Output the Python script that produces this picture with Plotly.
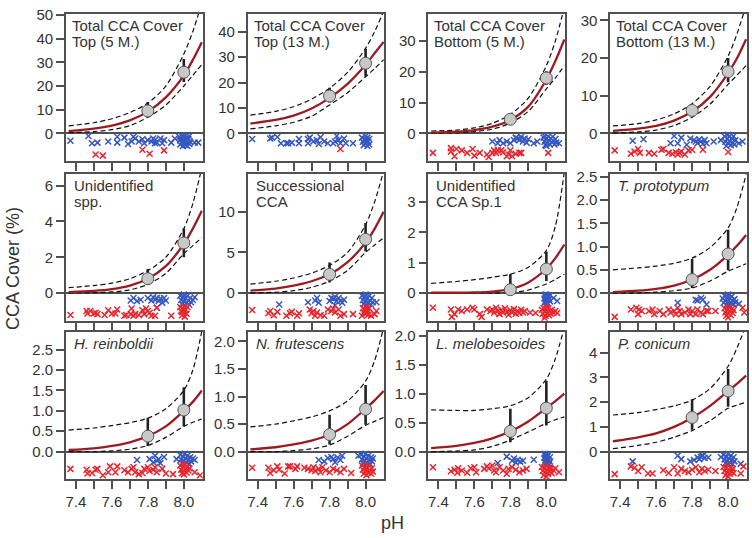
import plotly.graph_objects as go

W, H = 752, 538
FONT = "Liberation Sans, Arial, Helvetica, sans-serif"

# ---------------- data ----------------
PH_GRID = [7.36, 7.5, 7.6, 7.7, 7.8, 7.9, 8.0, 8.05, 8.1]
MEAN_PH = [7.8, 8.0]

TITLES = [
    ("Total CCA Cover", "Top (5 M.)"),
    ("Total CCA Cover", "Top (13 M.)"),
    ("Total CCA Cover", "Bottom (5 M.)"),
    ("Total CCA Cover", "Bottom (13 M.)"),
    ("Unidentified", "spp."),
    ("Successional", "CCA"),
    ("Unidentified", "CCA Sp.1"),
    ("<i>T. prototypum</i>", ""),
    ("<i>H. reinboldii</i>", ""),
    ("<i>N. frutescens</i>", ""),
    ("<i>L. melobesoides</i>", ""),
    ("<i>P. conicum</i>", ""),
]

YTICKS = [
    [0, 10, 20, 30, 40, 50],
    [0, 10, 20, 30, 40],
    [0, 10, 20, 30],
    [0, 10, 20, 30],
    [0, 2, 4, 6],
    [0, 5, 10],
    [0, 1, 2, 3],
    [0.0, 0.5, 1.0, 1.5, 2.0, 2.5],
    [0.0, 0.5, 1.0, 1.5, 2.0, 2.5],
    [0.0, 0.5, 1.0, 1.5, 2.0],
    [0.0, 0.5, 1.0, 1.5, 2.0],
    [0, 1, 2, 3, 4],
]
YTOP = [50.4, 47.0, 38.8, 31.7, 6.68, 14.7, 3.94, 2.57, 2.93, 2.17, 2.06, 4.83]

# fitted curve / dashed bands, read at PH_GRID
CURVE_1 = [1.0, 2.0, 3.3, 5.5, 9.2, 15.2, 24.5, 31.0, 38.5]
UPPER_1 = [3.2, 4.5, 6.2, 8.8, 12.8, 20.0, 33.5, 43.0, 55.0]
LOWER_1 = [0.3, 0.8, 1.6, 3.3, 6.8, 12.0, 20.0, 24.5, 29.0]
CURVE_2 = [3.9, 5.3, 7.0, 9.8, 14.0, 19.5, 27.0, 31.5, 36.0]
UPPER_2 = [7.2, 8.7, 10.5, 13.5, 17.8, 24.0, 33.5, 40.0, 48.0]
LOWER_2 = [1.8, 3.0, 4.4, 6.8, 11.2, 16.0, 22.3, 25.5, 29.0]
CURVE_3 = [0.3, 0.6, 1.1, 2.2, 4.4, 8.7, 17.5, 23.5, 30.5]
UPPER_3 = [0.8, 1.1, 1.8, 3.3, 6.2, 11.5, 22.0, 30.0, 41.0]
LOWER_3 = [0.0, 0.2, 0.6, 1.4, 3.4, 7.2, 14.5, 18.0, 22.0]
CURVE_4 = [0.7, 1.3, 2.0, 3.4, 5.8, 9.7, 16.0, 20.0, 25.0]
UPPER_4 = [2.0, 2.6, 3.6, 5.2, 7.9, 12.5, 20.5, 26.5, 34.0]
LOWER_4 = [0.1, 0.4, 0.9, 2.1, 4.3, 7.8, 13.0, 15.5, 18.0]
CURVE_5 = [0.05, 0.12, 0.22, 0.42, 0.8, 1.5, 2.75, 3.6, 4.6]
UPPER_5 = [0.3, 0.42, 0.55, 0.8, 1.25, 2.0, 3.6, 5.0, 7.0]
LOWER_5 = [0.0, 0.02, 0.06, 0.18, 0.48, 1.1, 2.2, 2.65, 3.1]
CURVE_6 = [0.3, 0.55, 0.9, 1.45, 2.3, 3.8, 6.2, 7.9, 10.0]
UPPER_6 = [1.1, 1.45, 1.85, 2.45, 3.4, 5.0, 8.4, 11.2, 15.0]
LOWER_6 = [0.0, 0.1, 0.3, 0.7, 1.45, 2.8, 5.0, 5.9, 6.8]
CURVE_7 = [0.01, 0.01, 0.02, 0.05, 0.13, 0.35, 0.8, 1.15, 1.6]
UPPER_7 = [0.32, 0.38, 0.44, 0.52, 0.62, 0.85, 1.4, 2.2, 4.0]
LOWER_7 = [0.0, 0.0, 0.0, 0.0, 0.01, 0.1, 0.3, 0.45, 0.62]
CURVE_8 = [0.02, 0.05, 0.09, 0.16, 0.29, 0.5, 0.82, 1.02, 1.25]
UPPER_8 = [0.5, 0.54, 0.58, 0.64, 0.75, 0.98, 1.4, 1.85, 2.55]
LOWER_8 = [0.0, 0.0, 0.02, 0.05, 0.11, 0.26, 0.47, 0.55, 0.63]
CURVE_9 = [0.04, 0.08, 0.14, 0.23, 0.38, 0.62, 1.0, 1.22, 1.5]
UPPER_9 = [0.53, 0.58, 0.64, 0.71, 0.82, 1.05, 1.5, 2.0, 2.95]
LOWER_9 = [0.0, 0.0, 0.02, 0.06, 0.15, 0.35, 0.62, 0.72, 0.8]
CURVE_10 = [0.04, 0.08, 0.13, 0.2, 0.31, 0.5, 0.78, 0.93, 1.1]
UPPER_10 = [0.45, 0.5, 0.56, 0.63, 0.74, 0.92, 1.28, 1.65, 2.25]
LOWER_10 = [0.0, 0.0, 0.02, 0.05, 0.12, 0.28, 0.48, 0.55, 0.62]
CURVE_11 = [0.06, 0.1, 0.15, 0.23, 0.35, 0.52, 0.75, 0.87, 1.0]
UPPER_11 = [0.72, 0.71, 0.71, 0.74, 0.79, 0.93, 1.25, 1.6, 2.15]
LOWER_11 = [0.0, 0.01, 0.03, 0.09, 0.2, 0.34, 0.49, 0.55, 0.6]
CURVE_12 = [0.42, 0.58, 0.74, 1.0, 1.37, 1.85, 2.45, 2.75, 3.07]
UPPER_12 = [1.48, 1.58, 1.7, 1.85, 2.08, 2.55, 3.45, 4.2, 5.1]
LOWER_12 = [0.12, 0.25, 0.38, 0.58, 0.85, 1.25, 1.75, 1.88, 2.0]

# means at pH 7.8 / 8.0 and interval ends
MEAN = [[9.5, 25.8], [14.7, 27.6], [4.6, 18.0], [6.1, 16.4], [0.8, 2.8], [2.3, 6.6],
        [0.11, 0.79], [0.29, 0.84], [0.38, 1.02], [0.31, 0.77], [0.35, 0.75], [1.38, 2.45]]
MEAN_LO = [[7.9, 21.7], [12.2, 22.4], [3.8, 15.8], [4.8, 13.6], [0.46, 2.0], [1.3, 5.1],
           [0.0, 0.4], [0.11, 0.49], [0.14, 0.62], [0.13, 0.49], [0.16, 0.45], [0.89, 1.81]]
MEAN_HI = [[13.3, 31.4], [18.0, 33.3], [5.6, 20.2], [7.4, 20.0], [1.34, 3.6], [3.75, 8.6],
           [0.63, 1.36], [0.73, 1.36], [0.83, 1.58], [0.67, 1.21], [0.74, 1.22], [2.12, 3.34]]

# individual observations below the zero line: (pH, jitter depth 0..1)
BLUE_1 = [(7.37,.26),(7.47,.09),(7.49,.35),(7.52,.33),(7.58,.29),(7.63,.12),(7.63,.33),(7.67,.15),(7.69,.38),
          (7.71,.29),(7.72,.12),(7.73,.18),(7.75,.29),(7.77,.21),(7.78,.35),(7.80,.24),(7.82,.29),(7.83,.18),
          (7.84,.35),(7.84,.24),(7.85,.33),(7.87,.18),(7.88,.35),(7.89,.24),(7.93,.33),(7.95,.18),
          (7.975,.12),(7.98,.25),(7.98,.4),(7.99,.1),(7.99,.3),(7.995,.45),(8.0,.18),(8.0,.35),(8.005,.08),
          (8.01,.25),(8.01,.42),(8.015,.15),(8.02,.32),(8.02,.45),(8.025,.2),(8.03,.1),(8.03,.38),(7.985,.18),
          (8.005,.28),(8.035,.3),(8.06,.33),(8.08,.33)]
RED_1 = [(7.51,.76),(7.55,.80),(7.77,.59),(7.81,.73),(7.89,.61)]
BLUE_2 = [(7.37,.2),(7.47,.18),(7.48,.15),(7.51,.13),(7.53,.35),(7.56,.35),(7.57,.35),(7.59,.33),(7.63,.2),
          (7.63,.35),(7.68,.2),(7.68,.35),(7.69,.15),(7.71,.29),(7.73,.24),(7.74,.38),(7.75,.14),(7.77,.29),
          (7.79,.35),(7.82,.35),(7.83,.29),(7.84,.09),(7.85,.24),(7.86,.35),(7.88,.18),(7.89,.35),(7.93,.35),
          (7.98,.15),(7.985,.3),(7.99,.42),(7.995,.2),(8.0,.1),(8.0,.35),(8.005,.25),(8.01,.45),(8.01,.15),
          (8.015,.3),(8.02,.2),(8.02,.4)]
RED_2 = [(7.86,.56)]
BLUE_3 = [(7.70,.29),(7.73,.35),(7.74,.24),(7.76,.35),(7.78,.29),(7.80,.35),(7.82,.24),(7.83,.15),(7.84,.18),
          (7.85,.24),(7.86,.12),(7.87,.29),(7.88,.18),(7.89,.33),(7.90,.21),(7.93,.35),(7.95,.29),
          (7.985,.15),(7.99,.3),(7.995,.42),(8.0,.2),(8.005,.35),(8.01,.1),(8.015,.25),(8.02,.4),(8.025,.18),
          (8.03,.32),(8.035,.12),(8.04,.28),(8.045,.4),(8.05,.2),(8.055,.33),(8.0,.45),(7.99,.08),(8.07,.35)]
RED_3 = [(7.37,.7),(7.47,.53),(7.47,.65),(7.49,.82),(7.5,.56),(7.53,.61),(7.56,.7),(7.59,.56),(7.6,.8),
         (7.63,.7),(7.67,.76),(7.68,.85),(7.70,.7),(7.71,.61),(7.72,.7),(7.73,.61),(7.75,.61),(7.76,.68),
         (7.78,.82),(7.79,.76),(7.80,.61),(7.81,.82),(7.83,.73),(7.85,.7),(7.86,.7),(8.01,.7)]
BLUE_4 = [(7.47,.26),(7.53,.21),(7.68,.35),(7.70,.09),(7.72,.35),(7.74,.15),(7.77,.41),(7.79,.18),(7.81,.24),
          (7.82,.29),(7.83,.35),(7.84,.21),(7.85,.29),(7.86,.38),(7.87,.24),(7.88,.35),(7.92,.29),(7.96,.24),
          (7.98,.1),(7.985,.3),(7.99,.45),(7.995,.2),(8.0,.35),(8.005,.12),(8.01,.28),(8.015,.42),(8.02,.18),
          (8.025,.33),(8.03,.1),(8.035,.4),(8.04,.25),(8.0,.05),(8.06,.35),(8.08,.29)]
RED_4 = [(7.37,.61),(7.46,.73),(7.48,.65),(7.50,.56),(7.51,.7),(7.56,.7),(7.59,.73),(7.63,.59),(7.64,.56),
         (7.67,.7),(7.69,.73),(7.71,.68),(7.72,.76),(7.73,.7),(7.74,.65),(7.76,.76),(7.78,.61),(7.80,.59),
         (7.86,.59),(8.0,.67)]
BLUE_5 = [(7.705,.27),(7.72,.18),(7.74,.29),(7.76,.24),(7.80,.18),(7.82,.27),(7.83,.15),(7.84,.24),(7.85,.18),
          (7.85,.53),(7.86,.29),(7.87,.2),(7.88,.35),(7.89,.18),(7.90,.27),
          (7.98,.1),(7.985,.25),(7.99,.4),(7.995,.15),(8.0,.3),(8.005,.45),(8.01,.2),(8.015,.35),(8.02,.1),
          (8.025,.28),(8.03,.42),(8.035,.18),(8.04,.33),(8.05,.25),(8.06,.15),(8.0,.05)]
RED_5 = [(7.37,.79),(7.46,.65),(7.465,.74),(7.48,.65),(7.50,.74),(7.51,.71),(7.52,.76),(7.56,.79),(7.58,.62),
         (7.6,.74),(7.62,.74),(7.63,.59),(7.67,.82),(7.68,.79),(7.705,.76),(7.71,.56),(7.72,.82),(7.73,.76),
         (7.75,.79),(7.77,.62),(7.78,.76),(7.79,.56),(7.80,.65),(7.81,.71),(7.82,.82),(7.84,.82),(7.85,.53),
         (7.93,.82),(7.98,.5),(7.985,.65),(7.99,.8),(7.995,.55),(8.0,.7),(8.005,.85),(8.01,.6),(8.015,.75),
         (8.02,.5),(8.0,.6),(7.99,.68)]
BLUE_6 = [(7.52,.41),(7.68,.33),(7.72,.27),(7.73,.18),(7.74,.35),(7.80,.29),(7.81,.18),(7.82,.21),(7.83,.14),
          (7.83,.44),(7.84,.29),(7.85,.18),(7.86,.29),(7.87,.35),(7.88,.24),
          (7.98,.1),(7.985,.25),(7.99,.4),(7.995,.15),(8.0,.3),(8.005,.45),(8.01,.2),(8.015,.35),(8.02,.1),
          (8.025,.28),(8.03,.42),(8.035,.18),(8.04,.33),(8.0,.05),(8.06,.33)]
RED_6 = [(7.37,.61),(7.46,.73),(7.47,.65),(7.49,.8),(7.51,.68),(7.56,.82),(7.58,.73),(7.59,.68),(7.62,.82),
         (7.63,.73),(7.69,.59),(7.70,.73),(7.71,.65),(7.72,.82),(7.73,.7),(7.75,.8),(7.77,.82),(7.79,.59),
         (7.81,.65),(7.82,.56),(7.83,.7),(7.85,.59),(7.86,.82),(7.88,.76),(7.93,.76),(7.98,.82),(8.01,.7),
         (8.03,.82),(8.05,.76),(8.06,.65),(7.985,.55),(7.99,.7),(7.995,.6),(8.0,.75),(8.005,.5),(8.01,.62),
         (8.015,.78),(8.02,.55),(8.0,.65)]
BLUE_7 = [(7.99,.06),(7.99,.2),(7.99,.35),(7.995,.12),(7.995,.28),(8.0,.05),(8.0,.18),(8.0,.32),(8.0,.41),
          (8.005,.1),(8.005,.25),(8.01,.15),(8.01,.38),(8.015,.22),(8.02,.3),(8.02,.08),(8.04,.18),(8.06,.29)]
RED_7 = [(7.37,.53),(7.47,.59),(7.475,.86),(7.49,.76),(7.51,.59),(7.53,.65),(7.56,.59),(7.59,.53),(7.6,.59),
         (7.63,.76),(7.64,.86),(7.67,.59),(7.69,.65),(7.70,.59),(7.71,.71),(7.72,.53),(7.73,.65),(7.74,.76),
         (7.75,.6),(7.76,.7),(7.77,.55),(7.78,.68),(7.79,.78),(7.80,.62),(7.81,.7),(7.82,.58),(7.83,.75),
         (7.84,.65),(7.85,.72),(7.86,.6),(7.87,.7),(7.88,.65),(7.91,.7),(7.94,.72),
         (7.975,.6),(7.98,.75),(7.985,.55),(7.99,.68),(7.995,.82),(8.0,.6),(8.005,.72),(8.01,.55),(8.015,.8),
         (8.02,.65),(8.025,.75),(8.03,.6),(8.04,.7),(8.05,.65),(8.06,.72),(8.0,.5),(7.99,.9)]
BLUE_8 = [(7.72,.35),(7.82,.24),(7.83,.27),(7.85,.18),(7.86,.24),(7.88,.41),
          (7.97,.2),(7.975,.35),(7.98,.1),(7.985,.28),(7.99,.42),(7.995,.15),(8.0,.3),(8.005,.45),(8.01,.2),
          (8.015,.35),(8.02,.12),(8.025,.28),(8.03,.4),(8.035,.22),(8.04,.33),(8.0,.05),(8.06,.39)]
RED_8 = [(7.37,.86),(7.46,.59),(7.49,.53),(7.50,.76),(7.505,.59),(7.52,.65),(7.56,.65),(7.58,.59),(7.59,.76),
         (7.62,.65),(7.64,.76),(7.67,.59),(7.68,.7),(7.70,.65),(7.71,.76),(7.72,.53),(7.73,.65),(7.74,.76),
         (7.76,.7),(7.78,.59),(7.79,.76),(7.80,.65),(7.82,.76),(7.83,.59),(7.85,.7),(7.86,.76),(7.88,.65),
         (7.89,.65),(7.93,.65),(7.98,.55),(7.985,.7),(7.99,.82),(7.995,.6),(8.0,.75),(8.005,.5),(8.01,.65),
         (8.015,.8),(8.02,.58),(8.025,.72),(8.03,.62),(8.0,.88),(8.08,.53),(8.09,.7)]
BLUE_9 = [(7.74,.3),(7.81,.27),(7.83,.38),(7.84,.15),(7.85,.33),(7.86,.27),(7.87,.42),(7.89,.19),(7.96,.27),
          (7.98,.12),(7.985,.28),(7.99,.42),(7.995,.18),(8.0,.33),(8.005,.08),(8.01,.25),(8.015,.4),(8.02,.15),
          (8.025,.3),(8.03,.45),(8.035,.2),(8.04,.35),(8.05,.25),(8.06,.3),(8.0,.45)]
RED_9 = [(7.37,.62),(7.46,.65),(7.465,.79),(7.49,.77),(7.51,.65),(7.52,.62),(7.55,.85),(7.58,.74),(7.59,.53),
         (7.62,.74),(7.63,.53),(7.67,.67),(7.69,.74),(7.71,.62),(7.72,.56),(7.73,.74),(7.75,.81),(7.77,.77),
         (7.78,.62),(7.80,.56),(7.81,.7),(7.83,.65),(7.84,.56),(7.85,.74),(7.88,.62),(7.90,.79),(7.94,.81),
         (7.98,.5),(7.985,.65),(7.99,.78),(7.995,.55),(8.0,.7),(8.005,.45),(8.01,.62),(8.015,.75),(8.02,.55),
         (8.025,.68),(8.03,.6),(8.0,.82),(8.06,.74),(8.09,.85)]
BLUE_10 = [(7.74,.3),(7.77,.35),(7.79,.23),(7.81,.19),(7.82,.27),(7.83,.38),(7.845,.21),(7.86,.3),(7.87,.15),
           (7.96,.15),(7.975,.12),(7.98,.28),(7.985,.42),(7.99,.18),(7.995,.33),(8.0,.08),(8.005,.25),(8.01,.4),
           (8.015,.15),(8.02,.3),(8.025,.45),(8.03,.2),(8.035,.35),(8.04,.25),(8.0,.45)]
RED_10 = [(7.37,.58),(7.46,.58),(7.47,.77),(7.49,.67),(7.51,.53),(7.52,.65),(7.55,.79),(7.57,.53),(7.58,.53),
          (7.61,.62),(7.62,.53),(7.66,.58),(7.68,.62),(7.70,.67),(7.71,.56),(7.72,.7),(7.74,.62),(7.75,.74),
          (7.76,.56),(7.78,.67),(7.80,.74),(7.82,.62),(7.84,.67),(7.86,.74),(7.88,.62),(7.92,.77),
          (7.98,.5),(7.985,.65),(7.99,.8),(7.995,.55),(8.0,.7),(8.005,.85),(8.01,.6),(8.015,.75),(8.02,.5),
          (8.025,.68),(8.03,.8),(8.035,.6),(8.04,.72),(8.0,.6)]
BLUE_11 = [(7.73,.41),(7.78,.18),(7.81,.33),(7.82,.25),(7.83,.39),(7.84,.29),(7.855,.36),(7.87,.33),(7.93,.29),
           (7.99,.08),(7.99,.22),(7.99,.38),(7.995,.15),(7.995,.3),(8.0,.1),(8.0,.25),(8.0,.42),(8.005,.18),
           (8.005,.35),(8.01,.12),(8.01,.28),(8.015,.45),(8.02,.2),(8.02,.36)]
RED_11 = [(7.37,.56),(7.47,.71),(7.49,.65),(7.505,.76),(7.51,.6),(7.53,.68),(7.56,.76),(7.58,.6),(7.60,.56),
          (7.61,.74),(7.655,.62),(7.67,.53),(7.68,.6),(7.70,.5),(7.71,.68),(7.72,.74),(7.74,.56),(7.76,.68),
          (7.78,.8),(7.79,.62),(7.81,.56),(7.83,.65),(7.85,.74),(7.87,.68),(7.89,.62),
          (7.975,.55),(7.98,.7),(7.985,.85),(7.99,.6),(7.995,.75),(8.0,.5),(8.005,.65),(8.01,.8),(8.015,.58),
          (8.02,.72),(8.025,.62),(8.03,.78),(8.04,.68),(8.05,.6),(8.0,.9),(8.07,.74)]
BLUE_12 = [(7.47,.35),(7.72,.15),(7.74,.27),(7.79,.35),(7.81,.3),(7.83,.21),(7.84,.27),(7.85,.19),(7.855,.13),
           (7.86,.15),(7.87,.23),(7.89,.21),(7.96,.19),(7.975,.12),(7.98,.28),(7.985,.42),(7.99,.18),(7.995,.33),
           (8.0,.08),(8.005,.25),(8.01,.4),(8.015,.15),(8.02,.3),(8.025,.45),(8.03,.2),(8.035,.35),(8.0,.45),
           (8.07,.44)]
RED_12 = [(7.37,.81),(7.46,.53),(7.48,.58),(7.50,.7),(7.52,.56),(7.555,.79),(7.58,.79),(7.64,.67),(7.67,.77),
          (7.70,.56),(7.72,.79),(7.74,.62),(7.76,.7),(7.78,.74),(7.80,.65),(7.82,.56),(7.84,.74),(7.855,.62),
          (7.87,.7),(7.89,.65),(7.93,.7),(7.975,.55),(7.98,.7),(7.985,.85),(7.99,.6),(7.995,.75),(8.0,.5),
          (8.005,.65),(8.01,.8),(8.015,.58),(8.02,.72),(8.025,.62),(8.03,.78),(8.0,.9),(8.07,.79),(8.085,.53)]

CURVES = [CURVE_1, CURVE_2, CURVE_3, CURVE_4, CURVE_5, CURVE_6, CURVE_7, CURVE_8, CURVE_9, CURVE_10, CURVE_11, CURVE_12]
UPPERS = [UPPER_1, UPPER_2, UPPER_3, UPPER_4, UPPER_5, UPPER_6, UPPER_7, UPPER_8, UPPER_9, UPPER_10, UPPER_11, UPPER_12]
LOWERS = [LOWER_1, LOWER_2, LOWER_3, LOWER_4, LOWER_5, LOWER_6, LOWER_7, LOWER_8, LOWER_9, LOWER_10, LOWER_11, LOWER_12]
BLUES = [BLUE_1, BLUE_2, BLUE_3, BLUE_4, BLUE_5, BLUE_6, BLUE_7, BLUE_8, BLUE_9, BLUE_10, BLUE_11, BLUE_12]
REDS = [RED_1, RED_2, RED_3, RED_4, RED_5, RED_6, RED_7, RED_8, RED_9, RED_10, RED_11, RED_12]

XTICKS = [7.4, 7.5, 7.6, 7.7, 7.8, 7.9, 8.0]
XTICKTEXT = ["7.4", "", "7.6", "", "7.8", "", "8.0"]

# ---------------- layout geometry (pixels) ----------------
COL_LEFT = [65, 247, 428, 610]
PANEL_W = 137
ROW_TOP = [6, 168, 329]
PANEL_H = 149.5
STRIP_RATIO = 0.232   # depth of observation strip below zero relative to ymax
XRANGE = [7.345, 8.105]

CURVE_COLOR = "#9B1B20"
BLUE = "#3558C0"
RED = "#E8262E"
AX = "#505050"
TXT = "#333333"

fig = go.Figure()
layout = dict(
    width=W, height=H, margin=dict(l=0, r=0, t=0, b=0),
    paper_bgcolor="white", plot_bgcolor="white", showlegend=False,
    font=dict(family=FONT, size=15, color=TXT),
)
annotations = []

for i in range(12):
    r, c = divmod(i, 4)
    n = i + 1
    xa, ya = f"x{n}", f"y{n}"
    left = COL_LEFT[c]
    top = ROW_TOP[r]
    ymax = YTOP[i]
    ymin = -STRIP_RATIO * ymax
    depth = -ymin

    for band in (UPPERS[i], LOWERS[i]):
        fig.add_trace(go.Scatter(x=PH_GRID, y=band, mode="lines", xaxis=xa, yaxis=ya,
                                 line=dict(color="#111", width=1.2, dash="5px,3px", shape="spline", smoothing=0.8),
                                 hoverinfo="skip"))
    fig.add_trace(go.Scatter(x=PH_GRID, y=CURVES[i], mode="lines", xaxis=xa, yaxis=ya,
                             line=dict(color=CURVE_COLOR, width=2.3, shape="spline", smoothing=0.8),
                             hoverinfo="skip"))
    for pts, col in ((BLUES[i], BLUE), (REDS[i], RED)):
        fig.add_trace(go.Scatter(
            x=[p[0] for p in pts], y=[-p[1] * depth for p in pts], mode="markers",
            xaxis=xa, yaxis=ya,
            marker=dict(symbol="x-thin", size=6, line=dict(width=1.5, color=col)),
            hoverinfo="skip"))
    m = MEAN[i]
    fig.add_trace(go.Scatter(
        x=MEAN_PH, y=m, mode="markers", xaxis=xa, yaxis=ya,
        marker=dict(size=12, color="#C8C8C8", line=dict(color="#555", width=1)),
        error_y=dict(type="data", symmetric=False,
                     array=[MEAN_HI[i][k] - m[k] for k in range(2)],
                     arrayminus=[m[k] - MEAN_LO[i][k] for k in range(2)],
                     thickness=2.6, width=0, color="#222"),
        hoverinfo="skip"))

    xdom = [left / W, (left + PANEL_W) / W]
    ydom = [1 - (top + PANEL_H) / H, 1 - top / H]
    yt = YTICKS[i]
    frac = any(isinstance(v, float) for v in yt)
    ytext = [f"{v:.1f}" if frac else f"{v:d}" for v in yt]

    layout[f"xaxis{n}"] = dict(
        domain=xdom, range=XRANGE, anchor=ya, tickvals=XTICKS,
        ticktext=XTICKTEXT, showticklabels=(r == 2),
        ticks="outside", ticklen=8, tickwidth=1.5, tickcolor=AX,
        showline=True, linecolor=AX, linewidth=1.5, mirror=True,
        showgrid=False, zeroline=False, fixedrange=True,
        tickfont=dict(size=15, color=TXT),
    )
    layout[f"yaxis{n}"] = dict(
        domain=ydom, range=[ymin, ymax], anchor=xa, tickvals=yt, ticktext=ytext,
        ticks="outside", ticklen=8, tickwidth=1.5, tickcolor=AX,
        showline=True, linecolor=AX, linewidth=1.5, mirror=True,
        showgrid=False, zeroline=True, zerolinecolor=AX, zerolinewidth=1.5,
        fixedrange=True, tickfont=dict(size=15, color=TXT),
    )

    t1, t2 = TITLES[i]
    xoff = 4 if r == 0 else 6
    annotations.append(dict(text=t1, xref="paper", yref="paper", showarrow=False,
                            x=(left + xoff) / W, y=1 - (top + 12) / H,
                            xanchor="left", yanchor="middle", font=dict(size=15, color=TXT)))
    if t2:
        annotations.append(dict(text=t2, xref="paper", yref="paper", showarrow=False,
                                x=(left + xoff) / W, y=1 - (top + 28.5) / H,
                                xanchor="left", yanchor="middle", font=dict(size=15, color=TXT)))

annotations.append(dict(text="CCA Cover (%)", xref="paper", yref="paper", showarrow=False,
                        x=12 / W, y=1 - 264 / H, textangle=-90, xanchor="center", yanchor="middle",
                        font=dict(size=18, color=TXT)))
annotations.append(dict(text="pH", xref="paper", yref="paper", showarrow=False,
                        x=392 / W, y=1 - 523 / H, xanchor="center", yanchor="middle",
                        font=dict(size=18, color=TXT)))
layout["annotations"] = annotations
fig.update_layout(**layout)
fig.write_html("out.html", config={"displayModeBar": False},
               post_script="document.body.style.margin='0';document.body.style.padding='0';")
